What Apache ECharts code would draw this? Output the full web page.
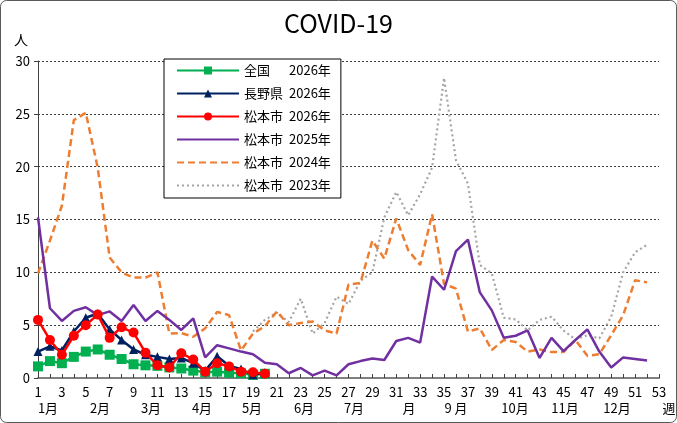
<!DOCTYPE html>
<html><head><meta charset="utf-8">
<script src="https://cdn.jsdelivr.net/npm/echarts@6/dist/echarts.min.js"></script>
<style>html,body{margin:0;padding:0;background:#fff;overflow:hidden}#c{width:677px;height:423px}</style>
</head><body><div id="c"></div>
<script>
var weeks = ['1','2','3','4','5','6','7','8','9','10','11','12','13','14','15','16','17','18','19','20','21','22','23','24','25','26','27','28','29','30','31','32','33','34','35','36','37','38','39','40','41','42','43','44','45','46','47','48','49','50','51','52','53'];
var weekTickLabels = ['1','3','5','7','9','11','13','15','17','19','21','23','25','27','29','31','33','35','37','39','41','43','45','47','49','51','53'];
var zenkoku2026 = [1.1,1.6,1.4,2.0,2.5,2.7,2.2,1.8,1.3,1.2,1.15,1.0,0.9,0.7,0.55,0.6,0.5,0.45,0.3,0.4];
var nagano2026 = [2.5,3.0,2.6,4.4,5.7,6.1,4.6,3.6,2.7,2.2,2.0,1.8,1.9,1.4,0.7,2.05,1.15,0.85,0.3,0.5];
var matsumoto2026 = [5.5,3.6,2.2,4.0,5.0,6.0,3.8,4.8,4.3,2.4,1.2,1.0,2.35,1.75,0.6,1.4,1.1,0.6,0.55,0.4];
var matsumoto2025 = [15.2,6.6,5.4,6.35,6.7,5.95,6.3,5.4,6.9,5.4,6.35,5.5,4.55,5.65,1.95,3.1,2.8,2.5,2.25,1.45,1.3,0.45,0.95,0.25,0.7,0.25,1.3,1.6,1.85,1.7,3.5,3.8,3.35,9.6,8.35,12.0,13.1,8.1,6.4,3.8,4.0,4.5,1.9,3.8,2.55,3.6,4.6,2.5,1.0,1.95,1.8,1.65];
var matsumoto2024 = [9.9,13.0,16.3,24.4,25.1,19.9,11.4,10.0,9.5,9.5,10.0,4.2,4.25,3.9,4.7,6.25,5.95,2.6,4.2,4.9,6.3,5.0,5.2,5.35,4.5,4.2,8.85,9.0,13.0,11.3,15.1,12.1,10.7,15.5,8.9,8.45,4.4,4.7,2.65,3.6,3.4,2.5,2.7,2.45,2.45,3.6,2.1,2.25,4.05,5.95,9.25,9.05];
var matsumoto2023 = [null,null,null,null,null,null,null,null,null,null,null,null,null,null,null,null,null,null,4.4,5.5,6.2,5.3,7.5,4.2,5.2,7.7,7.0,9.2,10.0,15.2,17.6,15.4,17.4,19.9,28.4,20.6,18.4,10.7,9.9,5.7,5.55,4.5,5.5,5.8,4.5,3.65,4.05,3.75,5.8,10.0,11.9,12.6];
var seriesNames = ['全国|2026年','長野県|2026年','松本市|2026年','松本市|2025年','松本市|2024年','松本市|2023年'];
var monthLabels = ['1月','2月','3月','4月','5月','6月','7月','月','9 月','10月','11月','12月','週'];
var monthX = [48,100,151,202,252,304,354,409,456,515,565,617,669];
var yLabelUnit = '人';
var titleText = 'COVID-19';

var FONT = '"Noto Sans CJK JP", "Noto Sans", sans-serif';
var chart = echarts.init(document.getElementById('c'));
var graphics = [{type:'rect', shape:{x:0.5,y:0.5,width:676,height:422,r:6}, style:{fill:'none',stroke:'#595959',lineWidth:1}, silent:true},
  {type:'text', left:14, top:33, style:{text:yLabelUnit, font:'14px '+FONT, fill:'#000'}}];
monthLabels.forEach(function(t,i){
  graphics.push({type:'text', x:monthX[i], y:402, style:{text:t, font:'13px '+FONT, fill:'#000', textAlign:'center'}});
});
function mk(name, data, color, opts){
  var s = {name:name, type:'line', data:data, connectNulls:false, animation:false, showAllSymbol:true,
    lineStyle:{color:color, width:2.5}, itemStyle:{color:color}, emphasis:{disabled:true}};
  for (var k in opts) s[k]=opts[k];
  return s;
}
var noMark = {opacity:0};
chart.setOption({
  animation:false,
  title:{text:titleText, left:'center', top:6, textStyle:{fontFamily:FONT, fontSize:25, fontWeight:'normal', color:'#000'}},
  grid:{left:38, right:18, top:61, bottom:45},
  legend:{orient:'vertical', left:164, top:59, width:180, padding:[5,10,6,12], itemGap:10,
    itemWidth:62, itemHeight:10, backgroundColor:'#fff', borderColor:'#000', borderWidth:1,
    data:[seriesNames[0], seriesNames[1], seriesNames[2],
      {name:seriesNames[3], itemStyle:noMark},
      {name:seriesNames[4], itemStyle:noMark},
      {name:seriesNames[5], itemStyle:noMark}],
    formatter:function(n){var p=n.split('|'); return '{a|'+p[0]+'}{b|'+p[1]+'}';},
    textStyle:{fontFamily:FONT, fontSize:13, color:'#000', rich:{a:{width:45,fontFamily:FONT,fontSize:13},b:{fontFamily:FONT,fontSize:13}}}},
  xAxis:{type:'category', data:weeks, boundaryGap:false,
    axisLine:{lineStyle:{color:'#7f7f7f', width:2}},
    axisTick:{interval:0, inside:true, length:4, lineStyle:{color:'#404040'}},
    axisLabel:{show:false},
    splitLine:{show:false}},
  yAxis:{type:'value', min:0, max:30, interval:5,
    axisLine:{show:true, lineStyle:{color:'#404040', width:1}},
    axisTick:{show:true, length:4, lineStyle:{color:'#404040'}},
    axisLabel:{fontFamily:FONT, fontSize:13, color:'#000', margin:8},
    splitLine:{lineStyle:{color:'#404040', type:[2,2], width:1}}},
  graphic:graphics,
  series:[
    mk(seriesNames[5], matsumoto2023, '#a5a5a5', {symbol:'none', z:2, lineStyle:{color:'#a5a5a5', width:2.2, type:[2,3]}}),
    mk(seriesNames[4], matsumoto2024, '#ed7d31', {symbol:'none', z:3, lineStyle:{color:'#ed7d31', width:2.5, type:[7,4]}}),
    mk(seriesNames[3], matsumoto2025, '#7030a0', {symbol:'none', z:4}),
    mk(seriesNames[0], zenkoku2026, '#00b050', {symbol:'rect', symbolSize:10, z:5}),
    mk(seriesNames[1], nagano2026, '#002060', {symbol:'triangle', symbolSize:9, z:6}),
    mk(seriesNames[2], matsumoto2026, '#ff0000', {symbol:'circle', symbolSize:10, z:7})
  ]
});
// week tick labels placed through the category axis scale (by category index)
var xAxisObj = chart.getModel().getComponent('xAxis', 0).axis;
function weekPx(idx){
  var px = chart.convertToPixel({xAxisIndex:0}, idx);
  if (px == null || isNaN(px)) {
    try { px = xAxisObj.toGlobalCoord(xAxisObj.dataToCoord(idx)); } catch (e) { px = NaN; }
  }
  if (px == null || isNaN(px)) {
    var a = chart.convertToPixel({xAxisIndex:0}, idx - 1), b = chart.convertToPixel({xAxisIndex:0}, idx - 2);
    px = a + (a - b);
  }
  return px;
}
var baseY = chart.convertToPixel({yAxisIndex:0}, 0);
weekTickLabels.forEach(function(t){
  var px = weekPx(weeks.indexOf(t));
  graphics.push({type:'text', x:px, y:baseY + 8, z:100, style:{text:t, font:'13px '+FONT, fill:'#000', textAlign:'center', textVerticalAlign:'top'}});
});
chart.setOption({graphic:graphics});
</script></body></html>
